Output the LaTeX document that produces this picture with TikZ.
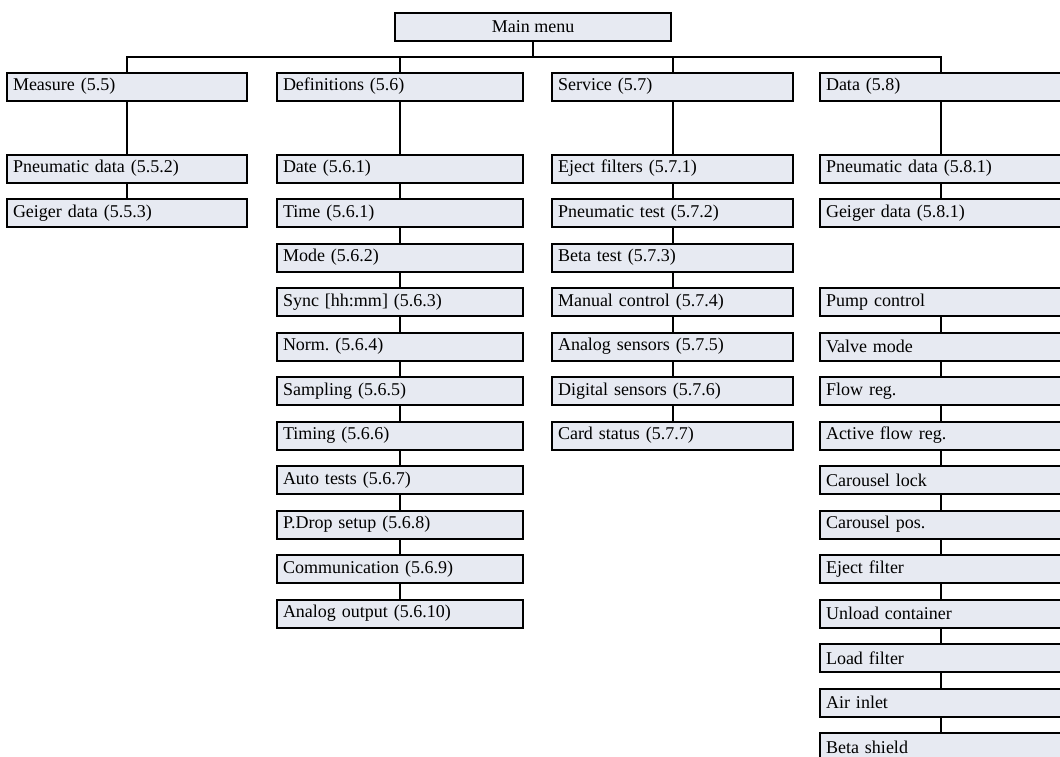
\documentclass[tikz,border=0pt]{standalone}
\usepackage{fontspec}
\setmainfont{Liberation Serif}
\usetikzlibrary{positioning}
\definecolor{boxfill}{RGB}{231,234,242}
\tikzset{
    menu/.style={rectangle,draw,fill=boxfill,line width=1pt,minimum height=14pt,inner xsep=3pt,inner ysep=0pt,text width=114.5pt,align=left},
    menuwide/.style={menu,text width=117pt},
    menutop/.style={rectangle,draw,fill=boxfill,line width=1pt,minimum height=14pt,minimum width=138pt,inner sep=0pt},
    linea/.style={draw,line width=1pt},
}

\begin{document}
\frenchspacing
\begin{tikzpicture}[
    x=0.5pt,y=0.5pt,
    node distance=7.25pt,
    every node/.style={font=\fontsize{9}{11}\selectfont},
]
    \useasboundingbox (0,0) rectangle (1060,-756);
    \node [menutop] (main) at (533,-26.5) {Main menu};
    \coordinate (bus) at (0,-57);
    % first level
    \node [menu,text width=114pt] (meas) at (127,-86.5) {Measure (5.5)};
    \node [menuwide] (defs) at (400,-86.5) {Definitions (5.6)};
    \node [menu] (serv) at (672.5,-86.5) {Service (5.7)};
    \node [menu] (data) at (940.5,-86.5) {Data (5.8)};
    % Measure
    \node [below=26pt of meas,menu,text width=114pt] (meas1) {Pneumatic data (5.5.2)};
    \node [below=of meas1,menu,text width=114pt] (meas2) {Geiger data (5.5.3)};
    % Definitions
    \node [below=26pt of defs,menuwide] (defs1) {Date (5.6.1)};
    \node [below=of defs1,menuwide] (defs2) {Time (5.6.1)};
    \node [below=of defs2,menuwide] (defs3) {Mode (5.6.2)};
    \node [below=of defs3,menuwide] (defs4) {Sync [hh:mm] (5.6.3)};
    \node [below=of defs4,menuwide] (defs5) {Norm. (5.6.4)};
    \node [below=of defs5,menuwide] (defs6) {Sampling (5.6.5)};
    \node [below=of defs6,menuwide] (defs7) {Timing (5.6.6)};
    \node [below=of defs7,menuwide] (defs8) {Auto tests (5.6.7)};
    \node [below=of defs8,menuwide] (defs9) {P.Drop setup (5.6.8)};
    \node [below=of defs9,menuwide] (defs10) {Communication (5.6.9)};
    \node [below=of defs10,menuwide] (defs11) {Analog output (5.6.10)};
    % Service
    \node [below=26pt of serv,menu] (serv1) {Eject filters (5.7.1)};
    \node [below=of serv1,menu] (serv2) {Pneumatic test (5.7.2)};
    \node [below=of serv2,menu] (serv3) {Beta test (5.7.3)};
    \node [below=of serv3,menu] (serv4) {Manual control (5.7.4)};
    \node [below=of serv4,menu] (serv5) {Analog sensors (5.7.5)};
    \node [below=of serv5,menu] (serv6) {Digital sensors (5.7.6)};
    \node [below=of serv6,menu] (serv7) {Card status (5.7.7)};
    % Data
    \node [below=26pt of data,menu] (data1) {Pneumatic data (5.8.1)};
    \node [below=of data1,menu] (data2) {Geiger data (5.8.1)};
    \node [below=29.5pt of data2,menu] (data3) {Pump control};
    \node [below=of data3,menu] (data4) {Valve mode};
    \node [below=of data4,menu] (data5) {Flow reg.};
    \node [below=of data5,menu] (data6) {Active flow reg.};
    \node [below=of data6,menu] (data7) {Carousel lock};
    \node [below=of data7,menu] (data8) {Carousel pos.};
    \node [below=of data8,menu] (data9) {Eject filter};
    \node [below=of data9,menu] (data10) {Unload container};
    \node [below=of data10,menu] (data11) {Load filter};
    \node [below=of data11,menu] (data12) {Air inlet};
    \node [below=of data12,menu] (data13) {Beta shield};
    % tree lines
    \path [linea] (main.south) -- (main.south |- bus);
    \path [linea] (meas.north) |- (bus -| data.north) -- (data.north);
    \path [linea] (defs.north) -- (defs.north |- bus);
    \path [linea] (serv.north) -- (serv.north |- bus);
    \path [linea] (meas) -- (meas1) -- (meas2);
    \path [linea] (defs) -- (defs1) -- (defs2) -- (defs3) -- (defs4) -- (defs5) -- (defs6)
        -- (defs7) -- (defs8) -- (defs9) -- (defs10) -- (defs11);
    \path [linea] (serv) -- (serv1) -- (serv2) -- (serv3) -- (serv4) -- (serv5) -- (serv6) -- (serv7);
    \path [linea] (data) -- (data1) -- (data2);
    \path [linea] (data3) -- (data4) -- (data5) -- (data6) -- (data7) -- (data8) -- (data9)
        -- (data10) -- (data11) -- (data12) -- (data13);
\end{tikzpicture}
\end{document}
